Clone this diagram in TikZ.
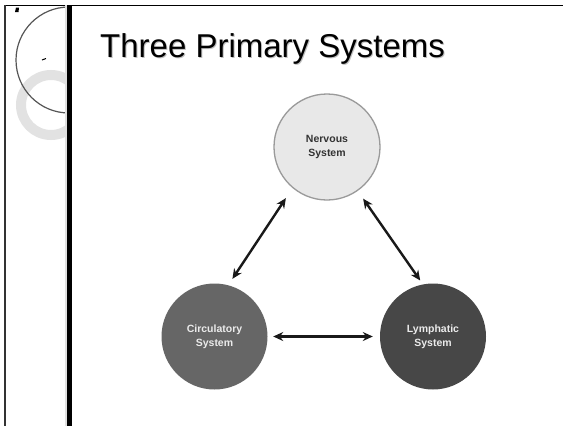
\documentclass[tikz,border=0pt]{standalone}
\usepackage{fontspec}
\setmainfont{Liberation Sans}
\usetikzlibrary{arrows.meta}
\definecolor{nervfill}{HTML}{E8E8E8}
\definecolor{nervline}{HTML}{9A9A9A}
\definecolor{circfill}{HTML}{666666}
\definecolor{lymphfill}{HTML}{474747}
\definecolor{ringgray}{HTML}{E2E2E2}
\definecolor{arcgray}{HTML}{555555}
\tikzset{
  sysnode/.style={circle, minimum size=106pt, inner sep=0pt, align=center,
    font=\fontsize{10.5}{14}\selectfont\bfseries},
  biarrow/.style={line width=2.4pt, black!90, {Stealth[length=10pt,width=9pt]}-{Stealth[length=10pt,width=9pt]}},
  frameline/.style={line width=1.6pt, black}
}
\begin{document}
\begin{tikzpicture}[x=1pt,y=-1pt]
\useasboundingbox (0,0) rectangle (563,426);
\fill[white] (0,0) rectangle (563,426);
% left decoration
\begin{scope}
  \clip (5,5) rectangle (67,426);
  \draw[ringgray, line width=10pt] (51,105) circle[radius=30];
  \draw[arcgray, line width=1.2pt] (69,60) circle[radius=53];
\end{scope}
\fill[black] (15,12) -- (16,7.5) -- (19,7.5) -- (18.5,12) -- cycle;
\draw[black, line width=1pt] (42,60) -- (46,58.5);
% frame
\draw[frameline] (5,5.5) -- (563,5.5);
\draw[line width=1.2pt, black!80] (5,5) -- (5,426);
\fill[black!12] (64.5,5) rectangle (67,426);
\fill[black] (67,5) rectangle (72,426);
% title
\node[anchor=base west, inner sep=0pt, text=black!25, font=\fontsize{33}{33}\selectfont] at (101,58.5) {Three Primary Systems};
\node[anchor=base west, inner sep=0pt, font=\fontsize{33}{33}\selectfont] (title) at (100,57) {Three Primary Systems};
% nodes
\node[sysnode, fill=nervfill, draw=nervline, line width=1.3pt, text=black!80] (nerv) at (327,147) {Nervous\\System};
\node[sysnode, fill=circfill, text=white!92!black] (circ) at (214.5,336.5) {Circulatory\\System};
\begin{scope}
  \clip (300,270) rectangle (486,400);
  \node[sysnode, fill=lymphfill, text=white!92!black] (lymph) at (433,336.5) {Lymphatic\\System};
\end{scope}
% arrows
\draw[biarrow, shorten <=12pt, shorten >=7.5pt] (nerv.230) -- (circ.75);
\draw[biarrow, shorten <=9.4pt, shorten >=4.6pt] (nerv.305) -- (lymph.101);
\draw[biarrow, shorten <=5.5pt, shorten >=7pt] (circ.east) -- (lymph.west);
\end{tikzpicture}
\end{document}
